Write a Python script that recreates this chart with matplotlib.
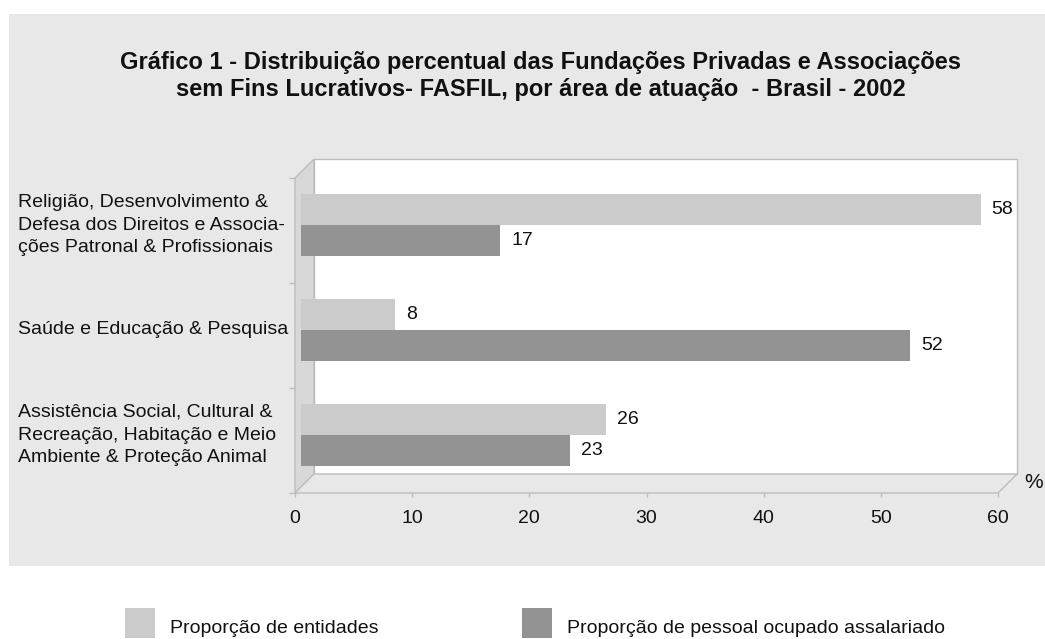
import matplotlib
matplotlib.use("Agg")
import matplotlib.pyplot as plt
from matplotlib.patches import Rectangle, Polygon
from matplotlib.transforms import ScaledTranslation, blended_transform_factory

# ---- data ----
categories = [
    "Religião, Desenvolvimento &\nDefesa dos Direitos e Associa-\nções Patronal & Profissionais",
    "Saúde e Educação & Pesquisa",
    "Assistência Social, Cultural &\nRecreação, Habitação e Meio\nAmbiente & Proteção Animal",
]
entidades = [58, 8, 26]
pessoal = [17, 52, 23]
series_names = ["Proporção de entidades", "Proporção de pessoal ocupado assalariado"]
xticks = [0, 10, 20, 30, 40, 50, 60]
title = ("Gráfico 1 - Distribuição percentual das Fundações Privadas e Associações\n"
         "sem Fins Lucrativos- FASFIL, por área de atuação  - Brasil - 2002")

# ---- style ----
W, H = 1045, 639
BG = "#e8e8e8"
LIGHT = "#cbcbcb"
DARK = "#939393"
EDGE = "#bdbdbd"
WALL = "#d8d8d8"
FS = 14
plt.rcParams['font.family'] = ['Liberation Sans', 'DejaVu Sans']

def fx(px):
    return px / W

def fy(py):
    return 1 - py / H

fig = plt.figure(figsize=(W / 100, H / 100), dpi=100)
fig.patch.set_facecolor("white")

# gray panel
fig.patches.append(Rectangle((fx(9), fy(566)), fx(1045) - fx(9), fy(14) - fy(566),
                             transform=fig.transFigure, facecolor=BG, edgecolor="none", zorder=-5))

# front plane axes
L, R, T, B = 295, 998, 178, 493
ax = fig.add_axes([fx(L), fy(B), (R - L) / W, (B - T) / H])
ax.set_zorder(1)
ax.set_facecolor("none")
for s in ax.spines.values():
    s.set_visible(False)
ax.set_xlim(0, 60)
ax.set_ylim(2.5, -0.5)

pxx = (R - L) / 60.0
pxy = (B - T) / 3.0
depth = 19
ddx = depth / pxx
ddy = depth / pxy

x0, x1 = 0, 60
y_top, y_bot = -0.5, 2.5
kw = dict(clip_on=False, linewidth=1.0, edgecolor=EDGE)
# back wall
ax.add_patch(Polygon([(x0 + ddx, y_top - ddy), (x1 + ddx, y_top - ddy),
                      (x1 + ddx, y_bot - ddy), (x0 + ddx, y_bot - ddy)],
                     closed=True, facecolor="white", zorder=1, **kw))
# left wall
ax.add_patch(Polygon([(x0, y_top), (x0 + ddx, y_top - ddy), (x0 + ddx, y_bot - ddy), (x0, y_bot)],
                     closed=True, facecolor=WALL, zorder=1, **kw))
# floor
ax.add_patch(Polygon([(x0, y_bot), (x0 + ddx, y_bot - ddy), (x1 + ddx, y_bot - ddy), (x1, y_bot)],
                     closed=True, facecolor=BG, zorder=1, **kw))

# bars, drawn a bit inside the depth
bar_trans = ax.transData + ScaledTranslation(6 / 100, 5.5 / 100, fig.dpi_scale_trans)
h = 31 / pxy
ypos = list(range(len(categories)))
yl = [y - h / 2 for y in ypos]
yd = [y + h / 2 for y in ypos]
ax.barh(yl, entidades, height=h, color=LIGHT, transform=bar_trans, zorder=3, clip_on=False)
ax.barh(yd, pessoal, height=h, color=DARK, transform=bar_trans, zorder=3, clip_on=False)

for y, v in zip(yl, entidades):
    ax.annotate(str(v), (v, y), xycoords=bar_trans, xytext=(11, 0), textcoords="offset pixels",
                ha="left", va="center", fontsize=FS, color="#111111")
for y, v in zip(yd, pessoal):
    ax.annotate(str(v), (v, y), xycoords=bar_trans, xytext=(11, 0), textcoords="offset pixels",
                ha="left", va="center", fontsize=FS, color="#111111")

# x axis ticks
ax.set_xticks(xticks)
ax.set_xticklabels([str(t) for t in xticks], fontsize=FS, color="#111111")
ax.tick_params(axis="x", length=3, width=1, color=EDGE, pad=9)
# y axis: ticks at category boundaries
ax.set_yticks([-0.5, 0.5, 1.5, 2.5])
ax.set_yticklabels([])
ax.tick_params(axis="y", length=4, width=1, color=EDGE)

# category labels
lab_trans = blended_transform_factory(fig.transFigure, bar_trans)
for y, c in zip(ypos, categories):
    ax.text(fx(18), y, c, transform=lab_trans, ha="left", va="center", fontsize=FS,
            linespacing=1.45, color="#111111")

# % label
ax.annotate("%", (60, 2.5), xycoords="data", xytext=(36, 10), textcoords="offset pixels",
            ha="center", va="center", fontsize=FS + 1, color="#111111")

# title
fig.text(fx(541), fy(76), title, ha="center", va="center", fontsize=17, fontweight="bold",
         linespacing=1.23, color="#111111")

# legend
for sx, tx, col, name in [(125, 170, LIGHT, series_names[0]), (522, 567, DARK, series_names[1])]:
    fig.patches.append(Rectangle((fx(sx), fy(638)), 30 / W, 30 / H, transform=fig.transFigure,
                                 facecolor=col, edgecolor="none"))
    fig.text(fx(tx), fy(633), name, ha="left", va="baseline", fontsize=FS, color="#111111")

fig.savefig("out.png", dpi=100, facecolor="white")
